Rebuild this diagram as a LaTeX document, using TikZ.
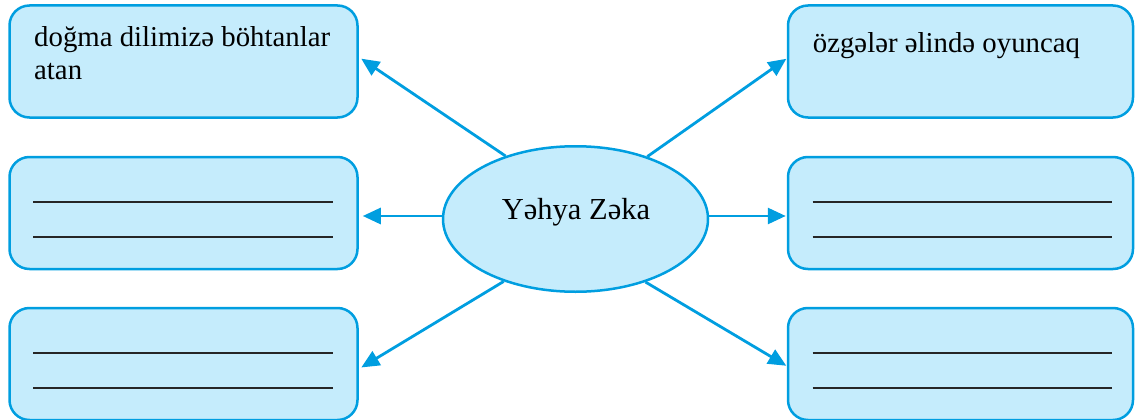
\documentclass[tikz,border=0pt]{standalone}
\usepackage{fontspec}
\setmainfont{Liberation Serif}
\usetikzlibrary{arrows.meta,shapes.geometric}
\definecolor{edgeblue}{RGB}{0,158,224}
\definecolor{fillblue}{RGB}{197,236,252}
\tikzset{
  boxnode/.style={draw=edgeblue, fill=fillblue, line width=2.5pt, rounded corners=20pt,
    minimum width=348pt, minimum height=112pt, inner sep=0pt},
  centernode/.style={ellipse, draw=edgeblue, fill=fillblue, line width=2.5pt,
    minimum width=265pt, minimum height=145.5pt, inner sep=0pt},
  boxtext/.style={anchor=base west, inner sep=0pt, font=\fontsize{28.8}{33}\selectfont},
  arr/.style={draw=edgeblue, line width=2.8pt, -{Triangle[length=18pt,width=16pt]}},
  blankline/.style={line width=2.2pt, draw=black!85}
}
\begin{document}
\begin{tikzpicture}[x=1pt,y=-1pt]
\useasboundingbox (0,0) rectangle (1135,420);
% boxes
\node[boxnode] (b1) at (183.5,61.5) {};
\node[boxnode] (b2) at (183.5,213) {};
\node[boxnode] (b3) at (183.5,364) {};
\node[boxnode, minimum width=345pt] (b4) at (960.5,61.5) {};
\node[boxnode, minimum width=345pt] (b5) at (960.5,213) {};
\node[boxnode, minimum width=345pt] (b6) at (960.5,364) {};
% centre
\node[centernode] (e) at (575.5,219) {};
\node[anchor=base, inner sep=0pt, font=\fontsize{30.5}{36}\selectfont] (et) at (576,219) {Yəhya Zəka};
% texts
\node[boxtext] (t1a) at (34,46.7) {doğma dilimizə böhtanlar};
\node[boxtext] (t1b) at (34,80) {atan};
\node[boxtext] (t4) at (812.7,53) {özgələr əlində oyuncaq};
% blank lines
\draw[blankline] (33,202) -- (333,202);
\draw[blankline] (33,237) -- (333,237);
\draw[blankline] (33,353) -- (333,353);
\draw[blankline] (33,388) -- (333,388);
\draw[blankline] (812.7,202) -- (1112,202);
\draw[blankline] (812.7,237) -- (1112,237);
\draw[blankline] (812.7,353) -- (1112,353);
\draw[blankline] (812.7,388) -- (1112,388);
% arrows
\draw[arr, shorten >=3pt] (e.138.5) -- ([yshift=4.5pt]b1.east);
\draw[arr, shorten >=4pt] ([yshift=3pt]e.west) -- ([yshift=3pt]e.west -| b2.east);
\draw[arr, shorten >=3pt] (e.221.5) -- ([yshift=-5pt]b3.east);
\draw[arr, shorten >=0.5pt] (e.41.5) -- ([yshift=3pt]b4.west);
\draw[arr, shorten >=1pt] ([yshift=3pt]e.east) -- ([yshift=3pt]e.east -| b5.west);
\draw[arr, shorten >=0.5pt] (e.318.5) -- ([yshift=-2pt]b6.west);
\end{tikzpicture}
\end{document}
